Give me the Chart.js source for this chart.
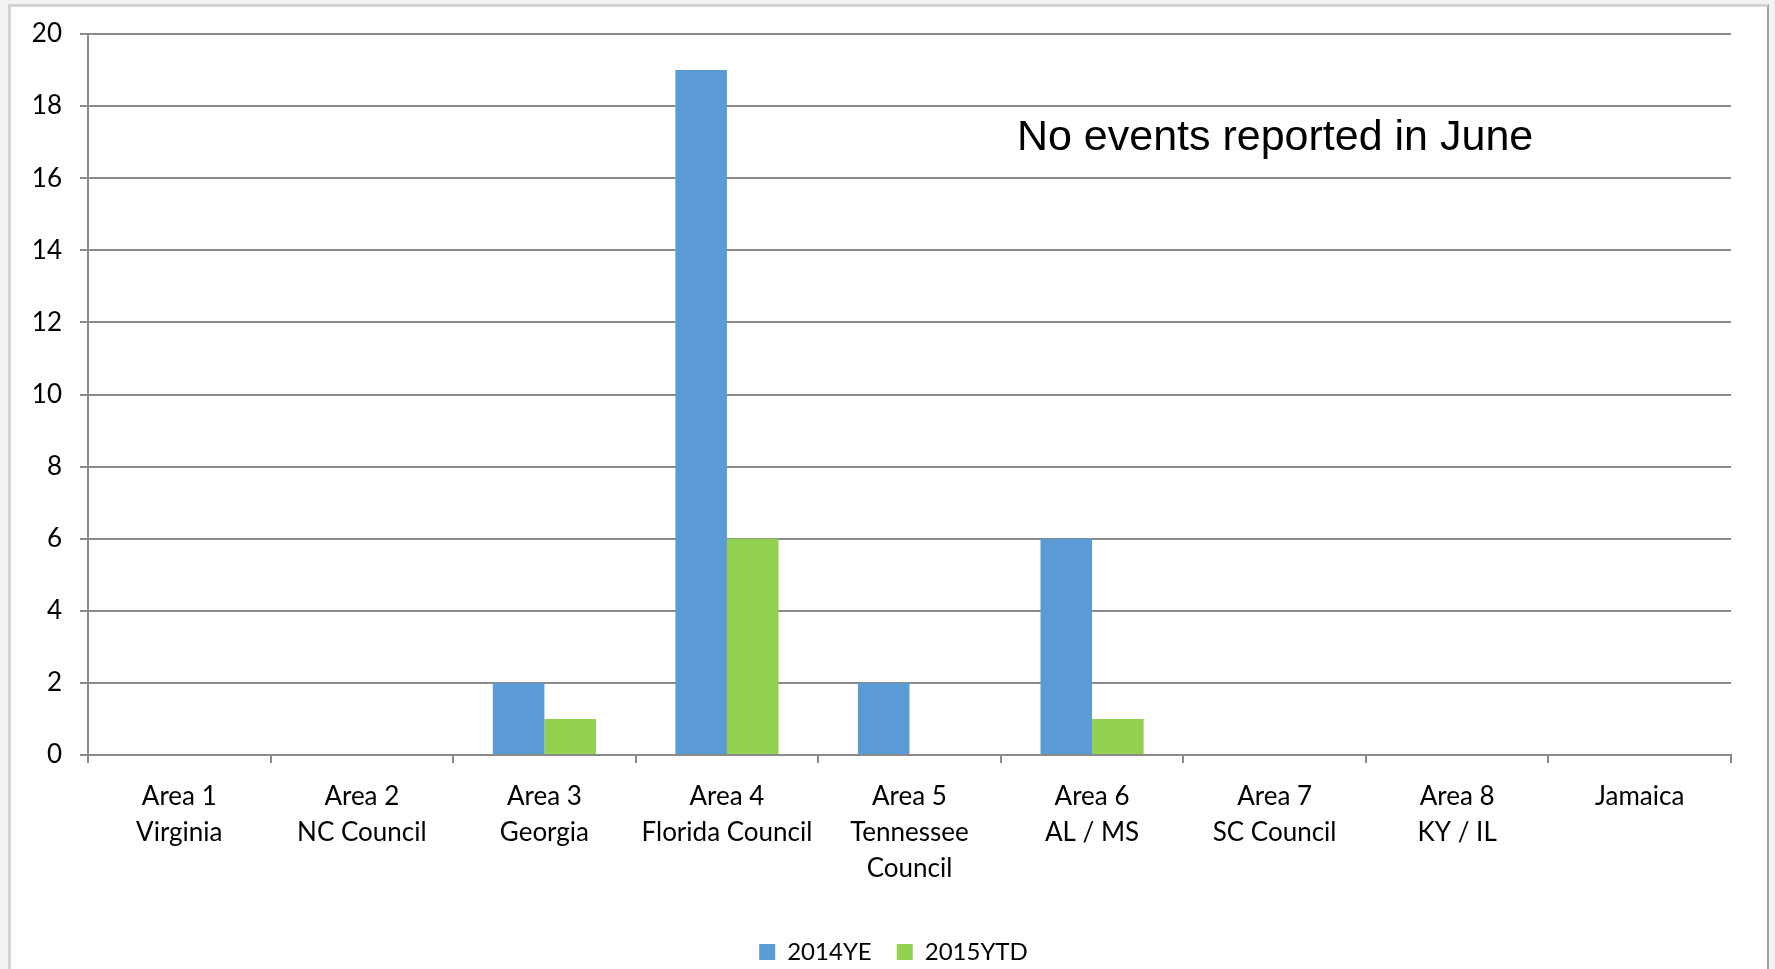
<!DOCTYPE html>
<html>
<head>
<meta charset="utf-8">
<script src="https://cdn.jsdelivr.net/npm/chart.js@4"></script>
<style>
  html, body { margin: 0; padding: 0; overflow: hidden; background: #f2f2f2; }
  #frame {
    position: absolute; left: 8px; top: 4px; width: 1756px; height: 1000px;
    background: #fff;
    border-left: 3px solid #d4d4d4;
    border-top: 3px solid #d4d4d4;
    border-right: 2px solid #a0a0a0;
  }
  #chart { position: absolute; left: 0; top: 0; }
</style>
</head>
<body>
<div id="frame"></div>
<canvas id="chart" width="1775" height="974"></canvas>
<script>
const areas = [
  ["Area 1", "Virginia"],
  ["Area 2", "NC Council"],
  ["Area 3", "Georgia"],
  ["Area 4", "Florida Council"],
  ["Area 5", "Tennessee", "Council"],
  ["Area 6", "AL / MS"],
  ["Area 7", "SC Council"],
  ["Area 8", "KY / IL"],
  ["Jamaica"]
];
const ye2014 = [0, 0, 2, 19, 2, 6, 0, 0, 0];
const ytd2015 = [0, 0, 1, 6, 0, 1, 0, 0, 0];
const seriesNames = ["2014YE", "2015YTD"];
const noteText = "No events reported in June";

const gridGrey = "#8a8a8a";
const fontFamily = "Lato, 'Open Sans', sans-serif";
const xFont = { family: fontFamily, size: 26, lineHeight: 1.385 };
const yFont = { family: fontFamily, size: 26, lineHeight: 1 };
const legendFont = { family: fontFamily, size: 24 };

// text box in the upper right of the plot
const notePlugin = {
  id: "note",
  afterDraw(chart) {
    const { ctx, chartArea, scales } = chart;
    ctx.save();
    ctx.font = "43px 'Liberation Sans', Arial, sans-serif";
    ctx.fillStyle = "#000";
    ctx.textAlign = "center";
    ctx.textBaseline = "middle";
    ctx.fillText(noteText, chartArea.left + chartArea.width * 0.7225, scales.y.getPixelForValue(17.1));
    ctx.restore();
  }
};

// nudge legend a bit left, like the original
const legendShift = {
  id: "legendShift",
  afterLayout(chart) {
    if (chart.legend) {
      chart.legend.left -= 16;
      chart.legend.right -= 16;
    }
  }
};

const ctx = document.getElementById("chart").getContext("2d");
const chart = new Chart(ctx, {
  type: "bar",
  data: {
    labels: areas,
    datasets: [
      { label: seriesNames[0], data: ye2014, backgroundColor: "#5b9bd5", borderWidth: 0 },
      { label: seriesNames[1], data: ytd2015, backgroundColor: "#92d050", borderWidth: 0 }
    ]
  },
  options: {
    responsive: false,
    devicePixelRatio: 1,
    animation: false,
    layout: { padding: { left: 0, top: 34, right: 44, bottom: 0 } },
    datasets: { bar: { categoryPercentage: 0.565, barPercentage: 1 } },
    plugins: {
      legend: {
        position: "bottom",
        fullSize: false,
        labels: {
          font: legendFont,
          color: "#000",
          boxWidth: 16,
          boxHeight: 16,
          padding: 25
        }
      },
      tooltip: { enabled: false }
    },
    scales: {
      x: {
        grid: { drawOnChartArea: false, drawTicks: true, tickLength: 8, color: gridGrey, lineWidth: 2, offset: true },
        border: { color: gridGrey, width: 2 },
        ticks: { font: xFont, color: "#000", padding: 16, maxRotation: 0, autoSkip: false },
        afterFit(scale) { scale.height = 160; }
      },
      y: {
        min: 0,
        max: 20,
        grid: { color: gridGrey, lineWidth: 2, tickLength: 8 },
        border: { color: gridGrey, width: 2 },
        ticks: { stepSize: 2, font: yFont, color: "#000", padding: 18 },
        afterFit(scale) { scale.width = 88; }
      }
    }
  },
  plugins: [notePlugin, legendShift]
});
</script>
</body>
</html>
